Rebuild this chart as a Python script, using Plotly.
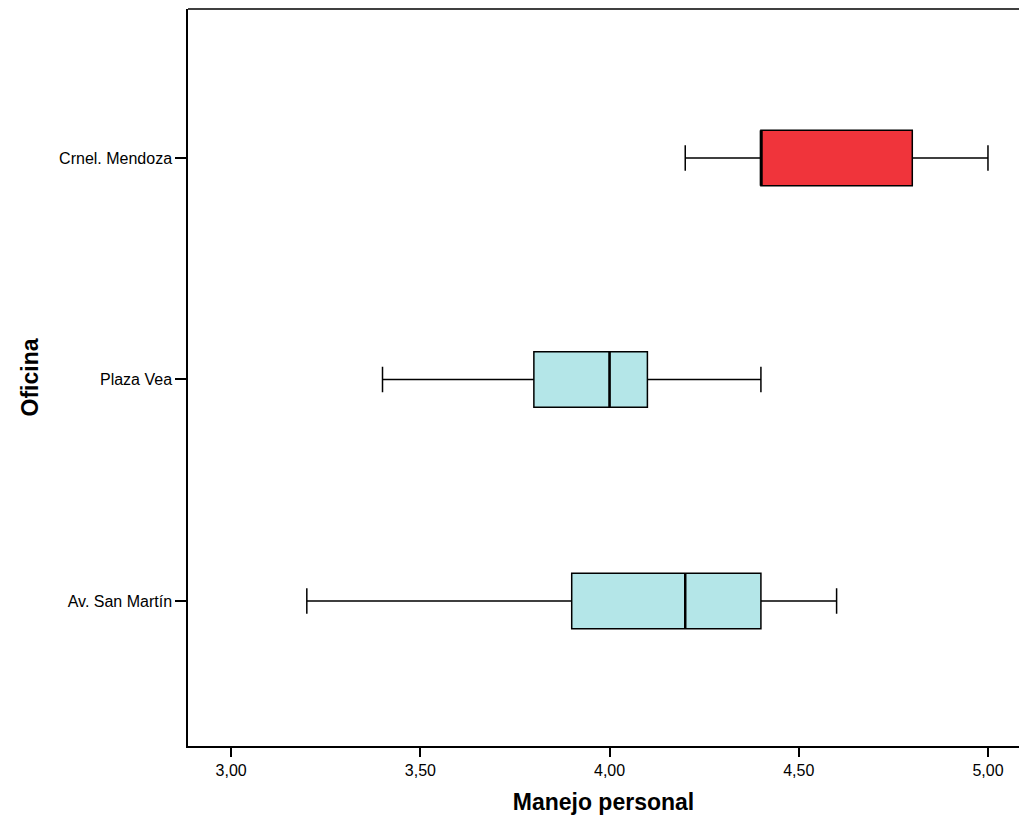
import plotly.graph_objects as go

offices = ["Av. San Martín", "Plaza Vea", "Crnel. Mendoza"]
mins = [3.2, 3.4, 4.2]
q1s = [3.9, 3.8, 4.4]
medians = [4.2, 4.0, 4.4]
q3s = [4.4, 4.1, 4.8]
maxs = [4.6, 4.4, 5.0]
colors = ["#B4E6E8", "#B4E6E8", "#F0343B"]
x_ticks = [3.0, 3.5, 4.0, 4.5, 5.0]
x_tick_labels = ["3,00", "3,50", "4,00", "4,50", "5,00"]

positions = list(range(len(offices)))
box_w = 0.25

fig = go.Figure()
for i, name in enumerate(offices):
    fig.add_trace(go.Box(
        y=[positions[i]], orientation="h",
        q1=[q1s[i]], median=[medians[i]], q3=[q3s[i]],
        lowerfence=[mins[i]], upperfence=[maxs[i]],
        fillcolor=colors[i], line=dict(color="black", width=1.5),
        width=box_w, whiskerwidth=0.46, boxpoints=False,
        showlegend=False, hoverinfo="skip", name=name,
    ))
    # thicker median line
    fig.add_trace(go.Scatter(
        x=[medians[i], medians[i]],
        y=[positions[i] - box_w / 2, positions[i] + box_w / 2],
        mode="lines", line=dict(color="black", width=2.5),
        showlegend=False, hoverinfo="skip",
    ))

fig.update_layout(
    width=1011, height=808,
    margin=dict(l=180, r=0, t=1, b=70),
    paper_bgcolor="white", plot_bgcolor="white",
    font=dict(family="Liberation Sans, Arial, sans-serif", color="black", size=15),
    xaxis=dict(
        range=[2.886, 5.082], tickvals=x_ticks, ticktext=x_tick_labels,
        showgrid=False, zeroline=False, showline=True, linecolor="black", linewidth=1.5,
        mirror=False, ticks="outside", ticklen=9, tickwidth=1.5, tickcolor="black",
        tickfont=dict(size=16),
        title=dict(text="<b>Manejo personal</b>", font=dict(size=23), standoff=16),
    ),
    yaxis=dict(
        range=[-0.655, 2.673], tickvals=positions, ticktext=offices,
        showgrid=False, zeroline=False, showline=True, linecolor="black", linewidth=1.5,
        ticks="outside", ticklen=11, tickwidth=1.5, tickcolor="black",
        tickfont=dict(size=16),
        title=dict(text="<b>Oficina</b>", font=dict(size=23), standoff=14),
    ),
    shapes=[dict(type="line", xref="paper", yref="paper", x0=0, x1=1, y0=1, y1=1,
                 line=dict(color="black", width=1.5))],
)

fig.write_html("out.html")
